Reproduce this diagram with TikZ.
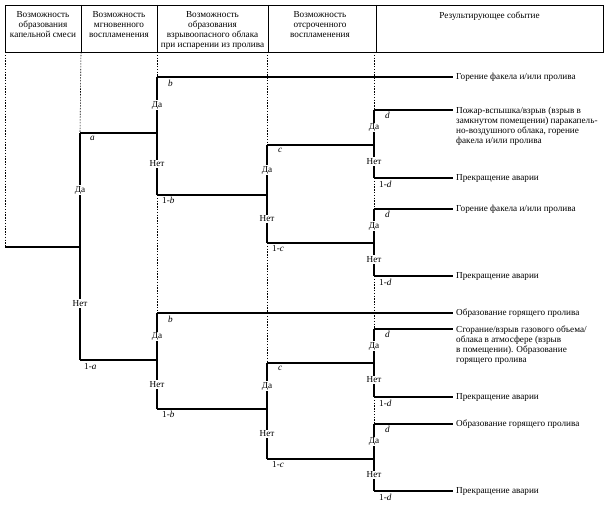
\documentclass[tikz,border=0pt]{standalone}
\usepackage{fontspec}
\setmainfont{Liberation Serif}
\newcommand\dfs{\fontsize{9.2}{10}\selectfont}
\begin{document}
\begin{tikzpicture}[x=1pt,y=-1pt,
  tree/.style={line width=1.3pt},
  guide/.style={line width=0.6pt, dash pattern=on 1.5pt off 1.3pt},
  frame/.style={line width=0.9pt},
  yn/.style={fill=white, inner sep=1pt, font=\dfs},
  pr/.style={anchor=north west, inner sep=0pt, font=\dfs},
  hd/.style={anchor=north, inner sep=0pt, align=center, font=\dfs},
  res/.style={anchor=west, inner sep=0pt, font=\dfs},
  resm/.style={anchor=north west, inner sep=0pt, align=left, font=\dfs}]
\useasboundingbox (0,0) rectangle (606,505);

% header table
\draw[frame] (5,5) rectangle (603,52);
\foreach \x in {81,157,268,376} \draw[frame] (\x,5) -- (\x,52);
\node[hd] (h1) at (43,11.5) {Возможность\\образования\\капельной смеси};
\node[hd] (h2) at (119,11.5) {Возможность\\мгновенного\\воспламенения};
\node[hd] (h3) at (212.5,11.5) {Возможность\\образования\\взрывоопасного облака\\при испарении из пролива};
\node[hd] (h4) at (320,11.5) {Возможность\\отсроченного\\воспламенения};
\node[hd] (h5) at (489.5,11.5) {Результирующее событие};

% tree coordinates
\coordinate (r0) at (5,247);
\coordinate (A) at (80,247);  \coordinate (Ay) at (80,133);  \coordinate (An) at (80,360);
\coordinate (B1) at (157,133); \coordinate (B1y) at (157,77);  \coordinate (B1n) at (157,195);
\coordinate (B2) at (157,360); \coordinate (B2y) at (157,313); \coordinate (B2n) at (157,409);
\coordinate (C1) at (267,195); \coordinate (C1y) at (267,145); \coordinate (C1n) at (267,243);
\coordinate (C2) at (267,409); \coordinate (C2y) at (267,363); \coordinate (C2n) at (267,459);
\coordinate (D1) at (374,145); \coordinate (D1y) at (374,110); \coordinate (D1n) at (374,178);
\coordinate (D2) at (374,243); \coordinate (D2y) at (374,209); \coordinate (D2n) at (374,276);
\coordinate (D3) at (374,363); \coordinate (D3y) at (374,329); \coordinate (D3n) at (374,397);
\coordinate (D4) at (374,459); \coordinate (D4y) at (374,424); \coordinate (D4n) at (374,491);
\coordinate (eB1) at (453,77);  \coordinate (eB2) at (453,313);
\coordinate (eD1y) at (453,110); \coordinate (eD1n) at (453,178);
\coordinate (eD2y) at (453,209); \coordinate (eD2n) at (453,276);
\coordinate (eD3y) at (453,329); \coordinate (eD3n) at (453,397);
\coordinate (eD4y) at (453,424); \coordinate (eD4n) at (453,491);

% dashed guides
\coordinate (g1) at (5,52); \coordinate (g2) at (81,52); \coordinate (g3) at (157,52);
\coordinate (g4) at (267,52); \coordinate (g5) at (374,52);
\draw[guide] (g1) -- (r0);
\draw[guide] (g2) -- (Ay);
\draw[guide] (g3) -- (B1y);
\draw[guide] (B1n) -- (B2y);
\draw[guide] (g4) -- (C1y);
\draw[guide] (C1n) -- (C2y);
\draw[guide] (g5) -- (D1y);
\draw[guide] (D1n) -- (D2y);
\draw[guide] (D2n) -- (D3y);
\draw[guide] (D3n) -- (D4y);

% horizontal branches
\draw[tree] (r0) -- (A);
\draw[tree] (Ay) -- (B1);
\draw[tree] (An) -- (B2);
\draw[tree] (B1y) -- (eB1);
\draw[tree] (B1n) -- (C1);
\draw[tree] (B2y) -- (eB2);
\draw[tree] (B2n) -- (C2);
\draw[tree] (C1y) -- (D1);
\draw[tree] (C1n) -- (D2);
\draw[tree] (C2y) -- (D3);
\draw[tree] (C2n) -- (D4);
\draw[tree] (D1y) -- (eD1y); \draw[tree] (D1n) -- (eD1n);
\draw[tree] (D2y) -- (eD2y); \draw[tree] (D2n) -- (eD2n);
\draw[tree] (D3y) -- (eD3y); \draw[tree] (D3n) -- (eD3n);
\draw[tree] (D4y) -- (eD4y); \draw[tree] (D4n) -- (eD4n);

% vertical splits with Да / Нет
\draw[tree] (Ay) -- node[yn] (yA) {Да} (A) -- node[yn] (nA) {Нет} (An);
\draw[tree] (B1y) -- node[yn] (yB1) {Да} (B1) -- node[yn] (nB1) {Нет} (B1n);
\draw[tree] (B2y) -- node[yn] (yB2) {Да} (B2) -- node[yn] (nB2) {Нет} (B2n);
\draw[tree] (C1y) -- node[yn] (yC1) {Да} (C1) -- node[yn] (nC1) {Нет} (C1n);
\draw[tree] (C2y) -- node[yn] (yC2) {Да} (C2) -- node[yn] (nC2) {Нет} (C2n);
\draw[tree] (D1y) -- node[yn] (yD1) {Да} (D1) -- node[yn] (nD1) {Нет} (D1n);
\draw[tree] (D2y) -- node[yn] (yD2) {Да} (D2) -- node[yn] (nD2) {Нет} (D2n);
\draw[tree] (D3y) -- node[yn] (yD3) {Да} (D3) -- node[yn] (nD3) {Нет} (D3n);
\draw[tree] (D4y) -- node[yn] (yD4) {Да} (D4) -- node[yn] (nD4) {Нет} (D4n);

% probability labels
\node[pr] (pA) at ([xshift=10pt,yshift=-3pt]Ay) {\textit{a}};
\node[pr] (qA) at ([xshift=4pt,yshift=-3pt]An) {1-\textit{a}};
\node[pr] (pB1) at ([xshift=11pt,yshift=-3pt]B1y) {\textit{b}};
\node[pr] (qB1) at ([xshift=5pt,yshift=-2pt]B1n) {1-\textit{b}};
\node[pr] (pB2) at ([xshift=11pt,yshift=-3pt]B2y) {\textit{b}};
\node[pr] (qB2) at ([xshift=5pt,yshift=-2pt]B2n) {1-\textit{b}};
\node[pr] (pC1) at ([xshift=11pt,yshift=-3pt]C1y) {\textit{c}};
\node[pr] (qC1) at ([xshift=5pt,yshift=-2pt]C1n) {1-\textit{c}};
\node[pr] (pC2) at ([xshift=11pt,yshift=-3pt]C2y) {\textit{c}};
\node[pr] (qC2) at ([xshift=5pt,yshift=-2pt]C2n) {1-\textit{c}};
\node[pr] (pD1) at ([xshift=11pt,yshift=-2pt]D1y) {\textit{d}};
\node[pr] (qD1) at ([xshift=5pt,yshift=-3pt]D1n) {1-\textit{d}};
\node[pr] (pD2) at ([xshift=11pt,yshift=-2pt]D2y) {\textit{d}};
\node[pr] (qD2) at ([xshift=5pt,yshift=-3pt]D2n) {1-\textit{d}};
\node[pr] (pD3) at ([xshift=11pt,yshift=-2pt]D3y) {\textit{d}};
\node[pr] (qD3) at ([xshift=5pt,yshift=-3pt]D3n) {1-\textit{d}};
\node[pr] (pD4) at ([xshift=11pt,yshift=-2pt]D4y) {\textit{d}};
\node[pr] (qD4) at ([xshift=5pt,yshift=-3pt]D4n) {1-\textit{d}};

% resulting events
\node[res] (t1) at ([xshift=3pt]eB1) {Горение факела и/или пролива};
\node[resm] (t2) at ([xshift=3pt,yshift=3.5pt]eD1y) {Пожар-вспышка/взрыв (взрыв в\\замкнутом помещении) паракапель-\\но-воздушного облака, горение\\факела и/или пролива};
\node[res] (t3) at ([xshift=3pt]eD1n) {Прекращение аварии};
\node[res] (t4) at ([xshift=3pt]eD2y) {Горение факела и/или пролива};
\node[res] (t5) at ([xshift=3pt]eD2n) {Прекращение аварии};
\node[res] (t6) at ([xshift=3pt]eB2) {Образование горящего пролива};
\node[resm] (t7) at ([xshift=3pt,yshift=3.5pt]eD3y) {Сгорание/взрыв газового объема/\\облака в атмосфере (взрыв\\в помещении). Образование\\горящего пролива};
\node[res] (t8) at ([xshift=3pt]eD3n) {Прекращение аварии};
\node[res] (t9) at ([xshift=3pt]eD4y) {Образование горящего пролива};
\node[res] (t10) at ([xshift=3pt]eD4n) {Прекращение аварии};
\end{tikzpicture}
\end{document}
